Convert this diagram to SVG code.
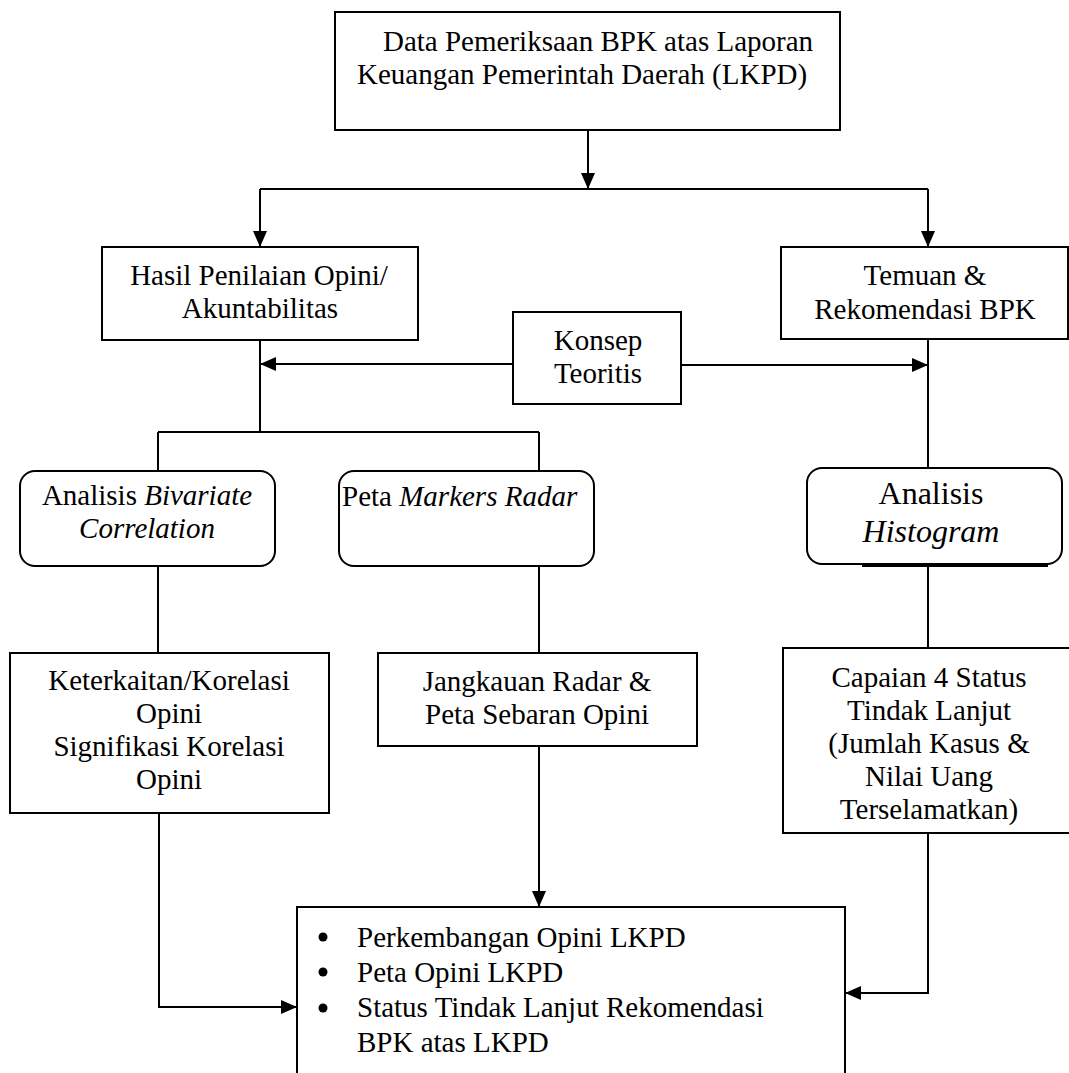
<svg xmlns="http://www.w3.org/2000/svg" width="1069" height="1073" viewBox="0 0 1069 1073">
<defs>
<style>
.box{fill:#fff;stroke:#000;stroke-width:2}
.ln{fill:none;stroke:#000;stroke-width:2}
text{font-family:"Liberation Serif","Times New Roman",serif;font-size:29px;fill:#000}
.c{text-anchor:middle}
.i{font-style:italic}
</style>
<marker id="ah" viewBox="0 0 16 14" refX="16" refY="7" markerWidth="16" markerHeight="14" markerUnits="userSpaceOnUse" orient="auto">
<path d="M0,0 L16,7 L0,14 Z" fill="#000"/>
</marker>
</defs>
<rect width="1069" height="1073" fill="#fff"/>

<g id="connectors">
<path class="ln" d="M588,130 V189" marker-end="url(#ah)"/>
<path class="ln" d="M260,189 H928"/>
<path class="ln" d="M260,189 V247" marker-end="url(#ah)"/>
<path class="ln" d="M928,189 V247" marker-end="url(#ah)"/>
<path class="ln" d="M513,364 H260" marker-end="url(#ah)"/>
<path class="ln" d="M681,365 H928" marker-end="url(#ah)"/>
<path class="ln" d="M260,340 V432"/>
<path class="ln" d="M158,432 H539"/>
<path class="ln" d="M158,432 V471"/>
<path class="ln" d="M539,432 V471"/>
<path class="ln" d="M928,339 V468"/>
<path class="ln" d="M158,566 V653"/>
<path class="ln" d="M539,566 V653"/>
<path class="ln" d="M928,564 V648"/>
<path class="ln" d="M539,746 V907" marker-end="url(#ah)"/>
<path class="ln" d="M159,813 V1007 H297" marker-end="url(#ah)"/>
<path class="ln" d="M928,833 V993 H845" marker-end="url(#ah)"/>
</g>

<g id="n-data">
<rect class="box" x="335" y="12" width="505" height="118"/>
<text x="383" y="51">Data Pemeriksaan BPK atas Laporan</text>
<text x="357" y="84">Keuangan Pemerintah Daerah (LKPD)</text>
</g>

<g id="n-hasil">
<rect class="box" x="102" y="247" width="316" height="93"/>
<text class="c" x="259" y="285">Hasil Penilaian Opini/</text>
<text class="c" x="260" y="318">Akuntabilitas</text>
</g>

<g id="n-temuan">
<rect class="box" x="781" y="247" width="287" height="92"/>
<text class="c" x="925" y="285">Temuan &amp;</text>
<text class="c" x="925" y="319">Rekomendasi BPK</text>
</g>

<g id="n-konsep">
<rect class="box" x="513" y="312" width="168" height="92"/>
<text class="c" x="598" y="350">Konsep</text>
<text class="c" x="598" y="383">Teoritis</text>
</g>

<g id="n-bivariate">
<rect class="box" x="20" y="471" width="255" height="95" rx="15" ry="15"/>
<text class="c" x="147" y="505">Analisis <tspan class="i">Bivariate</tspan></text>
<text class="c i" x="147" y="538">Correlation</text>
</g>

<g id="n-peta">
<rect class="box" x="339" y="471" width="255" height="95" rx="15" ry="15"/>
<text x="342" y="506">Peta <tspan class="i">Markers Radar</tspan></text>
</g>

<g id="n-histogram">
<rect class="box" x="807" y="468" width="255" height="96" rx="15" ry="15"/>
<line x1="862" y1="565.5" x2="1048" y2="565.5" stroke="#000" stroke-width="3"/>
<text class="c" x="931" y="504" style="font-size:32px">Analisis</text>
<text class="c i" x="931" y="542" style="font-size:32px">Histogram</text>
</g>

<g id="n-keterkaitan">
<rect class="box" x="10" y="653" width="319" height="160"/>
<text class="c" x="169" y="690">Keterkaitan/Korelasi</text>
<text class="c" x="169" y="723">Opini</text>
<text class="c" x="169" y="756">Signifikasi Korelasi</text>
<text class="c" x="169" y="789">Opini</text>
</g>

<g id="n-jangkauan">
<rect class="box" x="378" y="653" width="319" height="93"/>
<text class="c" x="537" y="691">Jangkauan Radar &amp;</text>
<text class="c" x="537" y="724">Peta Sebaran Opini</text>
</g>

<g id="n-capaian">
<rect class="box" x="783" y="648" width="300" height="185"/>
<text class="c" x="929" y="687">Capaian 4 Status</text>
<text class="c" x="929" y="720">Tindak Lanjut</text>
<text class="c" x="929" y="753">(Jumlah Kasus &amp;</text>
<text class="c" x="929" y="786">Nilai Uang</text>
<text class="c" x="929" y="819">Terselamatkan)</text>
</g>

<g id="n-hasil-akhir">
<rect class="box" x="297" y="907" width="548" height="180"/>
<circle cx="323" cy="937" r="4.5"/>
<circle cx="323" cy="972" r="4.5"/>
<circle cx="323" cy="1008" r="4.5"/>
<text x="357" y="947">Perkembangan Opini LKPD</text>
<text x="357" y="982">Peta Opini LKPD</text>
<text x="357" y="1017">Status Tindak Lanjut Rekomendasi</text>
<text x="357" y="1052">BPK atas LKPD</text>
</g>
</svg>
